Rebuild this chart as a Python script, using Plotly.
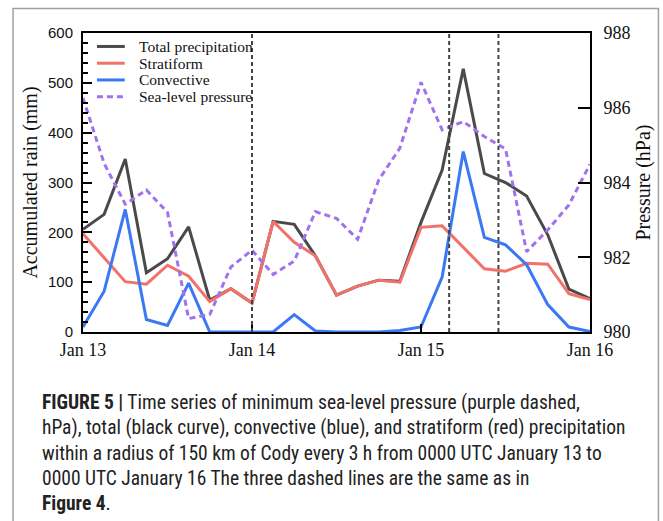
import plotly.graph_objects as go

hours = [0, 3, 6, 9, 12, 15, 18, 21, 24, 27, 30, 33, 36, 39, 42, 45, 48, 51, 54, 57, 60, 63, 66, 69, 72]
total = [206, 236, 347, 119, 147, 211, 64, 87, 58, 222, 216, 153, 74, 92, 104, 102, 220, 325, 528, 318, 300, 273, 195, 86, 67]
stratiform = [197, 150, 101, 96, 134, 112, 61, 87, 58, 222, 180, 153, 74, 92, 104, 100, 210, 213, 170, 127, 122, 138, 136, 77, 65]
convective = [10, 82, 246, 25, 13, 98, 0, 0, 0, 0, 35, 2, 0, 0, 0, 3, 10, 110, 362, 190, 175, 135, 55, 10, 1]
pressure = [986.26, 984.51, 983.42, 983.80, 983.20, 980.36, 980.47, 981.74, 982.19, 981.54, 981.90,
            983.22, 983.04, 982.48, 984.07, 984.92, 986.68, 985.41, 985.63, 985.23, 984.90, 982.15,
            982.73, 983.40, 984.49]
event_hours = [24, 52, 59]
tick_hours = [0, 24, 48, 72]
tick_labels = ["Jan 13", "Jan 14", "Jan 15", "Jan 16"]
series_names = ["Total precipitation", "Stratiform", "Convective", "Sea-level pressure"]
series_colors = ["#4a4a4a", "#f2716a", "#3b78f4", "#a073ee"]
series_dash = ["solid", "solid", "solid", "6px,4px"]

SERIF = "Liberation Serif"
SANS = "Liberation Sans"

fig = go.Figure()
data = [total, stratiform, convective, pressure]
for i, (name, vals) in enumerate(zip(series_names, data)):
    fig.add_trace(go.Scatter(x=hours, y=vals, mode="lines", name=name,
                             yaxis="y2" if i == 3 else "y", showlegend=False,
                             line=dict(color=series_colors[i], width=3, dash=series_dash[i])))

for h in event_hours:
    fig.add_vline(x=h, line=dict(color="#444444", width=2, dash="4px,3px"))

# compact legend (upper left, inside plot)
legend_rows_y = [0.955, 0.899, 0.843, 0.787]
for i, name in enumerate(series_names):
    fig.add_shape(type="line", xref="paper", yref="paper",
                  x0=0.0275, x1=0.0824, y0=legend_rows_y[i], y1=legend_rows_y[i],
                  line=dict(color=series_colors[i], width=3, dash=series_dash[i]))
    fig.add_annotation(text=name, xref="paper", yref="paper", x=0.108, y=legend_rows_y[i],
                       xanchor="left", yanchor="middle", showarrow=False, borderpad=0,
                       font=dict(family=SERIF, size=15.5, color="#111"))

fig.update_layout(
    width=663, height=521,
    margin=dict(l=83, r=70, t=33, b=189),
    paper_bgcolor="white", plot_bgcolor="white",
    showlegend=False,
    xaxis=dict(range=[0, 72], tickmode="array", tickvals=tick_hours, ticktext=tick_labels,
               ticks="inside", ticklen=8, tickwidth=2, tickcolor="black",
               showline=True, linewidth=2, linecolor="black", mirror=True,
               showgrid=False, zeroline=False,
               tickfont=dict(family=SERIF, size=18, color="#111")),
    yaxis=dict(range=[0, 600], dtick=100, ticks="inside", ticklen=9, tickwidth=2, tickcolor="black",
               minor=dict(dtick=20, ticks="inside", ticklen=5, tickwidth=1.5, tickcolor="black"),
               showline=True, linewidth=2, linecolor="black", mirror=True,
               showgrid=False, zeroline=False, ticklabelstandoff=5,
               tickfont=dict(family=SANS, size=15, color="#111"),
               title=dict(text="Accumulated rain (mm)", font=dict(family=SERIF, size=20, color="#111"),
                          standoff=5)),
    yaxis2=dict(range=[980, 988], dtick=2, overlaying="y", side="right",
                ticks="inside", ticklen=12, tickwidth=2, tickcolor="black",
                showline=True, linewidth=2, linecolor="black",
                showgrid=False, zeroline=False, ticklabelstandoff=8,
                tickfont=dict(family=SERIF, size=18, color="#111"),
                title=dict(text="Pressure (hPa)", font=dict(family=SERIF, size=20, color="#111"),
                           standoff=6)),
)

# outer frame
fig.add_shape(type="path", xref="paper", yref="paper",
              path="M -0.138 -0.7 L -0.138 1.082 L 1.135 1.082 L 1.135 -0.7",
              line=dict(color="#a0a0a0", width=1.5))

caption_lines = [
    "<b>FIGURE 5 |</b> Time series of minimum sea-level pressure (purple dashed,",
    "hPa), total (black curve), convective (blue), and stratiform (red) precipitation",
    "within a radius of 150 km of Cody every 3 h from 0000 UTC January 13 to",
    "0000 UTC January 16 The three dashed lines are the same as in",
    "<b>Figure 4</b>.",
]
fig.add_annotation(text="<br>".join(caption_lines), xref="paper", yref="paper",
                   x=-0.084, y=-0.19, xanchor="left", yanchor="top", align="left",
                   showarrow=False,
                   font=dict(family="Liberation Sans Narrow, Arial Narrow, Roboto Condensed, sans-serif",
                             size=19.5, color="#222"))

fig.write_html("out.html")
